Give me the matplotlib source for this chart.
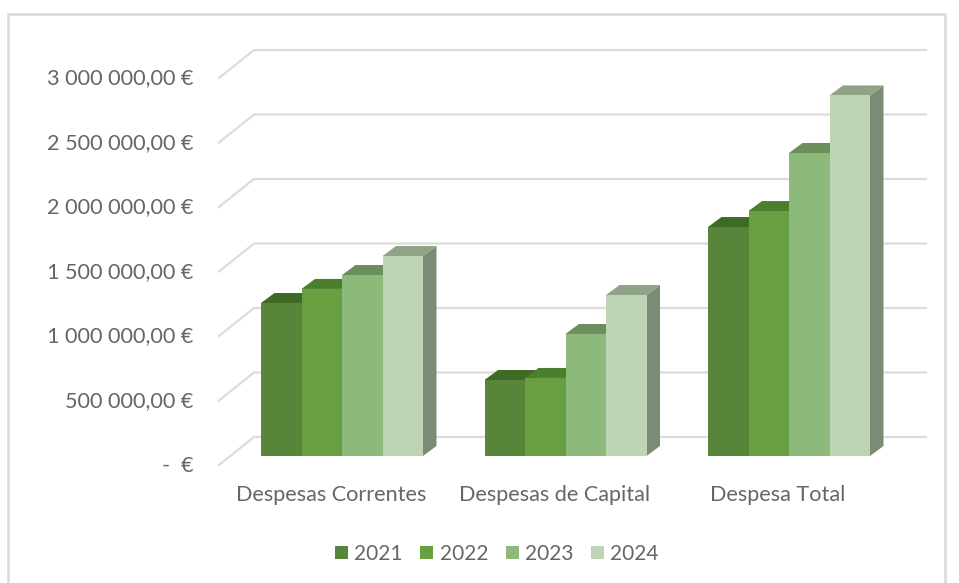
import numpy as np
import matplotlib.pyplot as plt
from matplotlib.patches import Patch, Rectangle

categorias = ["Despesas Correntes", "Despesas de Capital", "Despesa Total"]
anos = ["2021", "2022", "2023", "2024"]
v2021 = [1186000, 589000, 1775000]
v2022 = [1295000, 605000, 1899000]
v2023 = [1403000, 946000, 2349000]
v2024 = [1550000, 1248000, 2795000]
marcas = [0, 500000, 1000000, 1500000, 2000000, 2500000, 3000000]
etiquetas = ["-  €", "500 000,00 €", "1 000 000,00 €", "1 500 000,00 €",
             "2 000 000,00 €", "2 500 000,00 €", "3 000 000,00 €"]

cor_frente = ["#578539", "#68A041", "#8DB97A", "#BDD5B5"]
cor_topo = ["#3F6A23", "#4C7F2D", "#6B8F5B", "#8EA387"]
cor_lado = ["#47682F", "#587F3C", "#6F8A62", "#7A8C73"]

plt.rcParams['font.family'] = ['Lato', 'DejaVu Sans']

L, A = 959, 583
px_y = 500000 / 64.5     # euros por pixel
px_x = 1 / 223.5         # categorias por pixel
base = 456

fig = plt.figure(figsize=(L / 100, A / 100), dpi=100)
fig.patches.append(Rectangle((8 / L, -0.05), 937 / L, 1.05 - 14 / A, transform=fig.transFigure,
                             fill=False, edgecolor="#D9D9D9", linewidth=1.8))

ax = fig.add_axes([219 / L, (A - 465) / A, (926 - 219) / L, 435 / A])
ax.patch.set_alpha(0)
ax.set_xlim((219 - 342) * px_x, (926 - 342) * px_x)
ax.set_ylim(-9 * px_y, (base - 30) * px_y)
for s in ax.spines.values():
    s.set_visible(False)

# paredes e chao (grelha)
fundo_y = 19 * px_y
frente_y = -9 * px_y
x_esq = (219 - 342) * px_x
x_fundo = (254 - 342) * px_x
x_dir = (926 - 342) * px_x
for m in marcas:
    ax.plot([x_esq, x_fundo, x_dir], [m + frente_y, m + fundo_y, m + fundo_y],
            color="#DCDCDC", lw=1.6, clip_on=False, zorder=1)

# barras
series = [v2021, v2022, v2023, v2024]
larg = 40.5 * px_x
dx = 13.5 * px_x
dy = 10 * px_y
x0 = np.arange(3)
z = 2
for g in x0:
    for i, s in enumerate(series):
        x = g + (i - 2) * larg
        h = s[g]
        ax.fill([x + larg, x + larg + dx, x + larg + dx, x + larg],
                [0, dy, h + dy, h], color=cor_lado[i], lw=0, zorder=z)
        ax.fill([x, x + dx, x + larg + dx, x + larg],
                [h, h + dy, h + dy, h], color=cor_topo[i], lw=0, zorder=z)
        ax.bar(x, h, width=larg, align='edge', color=cor_frente[i], lw=0, zorder=z + 0.5)
        z += 1

ax.set_yticks([m + frente_y + 1.5 * px_y for m in marcas])
ax.set_yticklabels(etiquetas)
ax.set_xticks(x0 - 11 * px_x)
ax.set_xticklabels(categorias)
ax.tick_params(axis='y', length=0, pad=18.5, labelsize=15.6, labelcolor="#666666")
ax.tick_params(axis='x', length=0, pad=14.5, labelsize=15.6, labelcolor="#666666")

alcas = [Patch(facecolor=c, edgecolor='none') for c in cor_frente]
fig.legend(alcas, anos, ncol=4, loc='center', bbox_to_anchor=(497 / L, (A - 554) / A),
           frameon=False, fontsize=15, labelcolor="#666666", handlelength=0.62, handleheight=0.62,
           handletextpad=0.3, columnspacing=0.85)

fig.savefig("out.png", dpi=100)
